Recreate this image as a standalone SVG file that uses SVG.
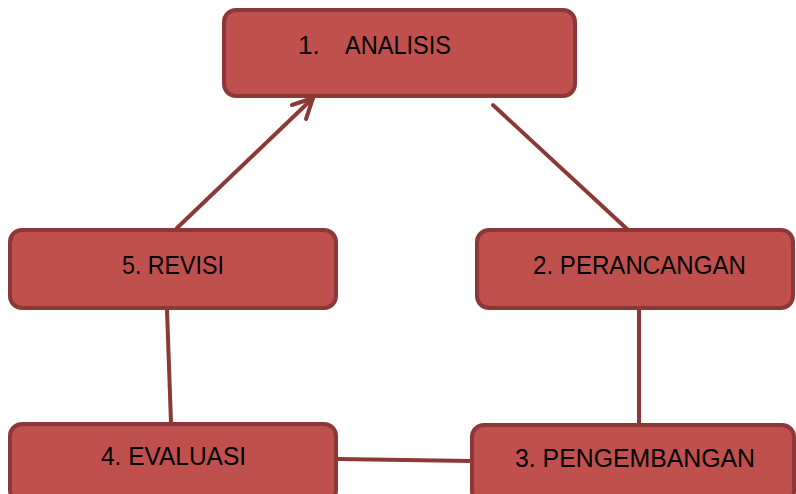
<svg xmlns="http://www.w3.org/2000/svg" width="796" height="494" viewBox="0 0 796 494">
<style>
.box{fill:#C0504D;stroke:#8C3836;stroke-width:4}
.lbl{font-family:"Liberation Sans",Arial,sans-serif;font-size:26px;fill:#000}
.conn{stroke:#8C3836;stroke-width:4;fill:none;stroke-linecap:round;stroke-linejoin:round}
</style>
<rect width="796" height="494" fill="#fff"/>
<g id="connectors">
<line class="conn" x1="177" y1="228" x2="313" y2="98"/>
<polyline class="conn" points="292,105 313,98 306,119"/>
<line class="conn" x1="493" y1="105" x2="627" y2="229"/>
<line class="conn" x1="639" y1="310" x2="639" y2="425"/>
<line class="conn" x1="167" y1="310" x2="171" y2="423"/>
<line class="conn" x1="337" y1="459" x2="472" y2="461"/>
</g>
<g id="n1">
<rect class="box" x="224" y="10" width="351" height="86" rx="12"/>
<text class="lbl" x="298" y="54">1.</text>
<text class="lbl" x="345" y="54" textLength="106" lengthAdjust="spacingAndGlyphs">ANALISIS</text>
</g>
<g id="n2">
<rect class="box" x="477" y="230" width="316" height="78" rx="12"/>
<text class="lbl" x="533" y="274" textLength="213" lengthAdjust="spacingAndGlyphs">2. PERANCANGAN</text>
</g>
<g id="n3">
<rect class="box" x="472" y="425" width="322" height="78" rx="12"/>
<text class="lbl" x="515" y="467" textLength="240" lengthAdjust="spacingAndGlyphs">3. PENGEMBANGAN</text>
</g>
<g id="n4">
<rect class="box" x="10" y="424" width="326" height="78" rx="12"/>
<text class="lbl" x="101" y="465" textLength="145" lengthAdjust="spacingAndGlyphs">4. EVALUASI</text>
</g>
<g id="n5">
<rect class="box" x="10" y="230" width="326" height="78" rx="12"/>
<text class="lbl" x="122" y="274" textLength="102" lengthAdjust="spacingAndGlyphs">5. REVISI</text>
</g>
</svg>
